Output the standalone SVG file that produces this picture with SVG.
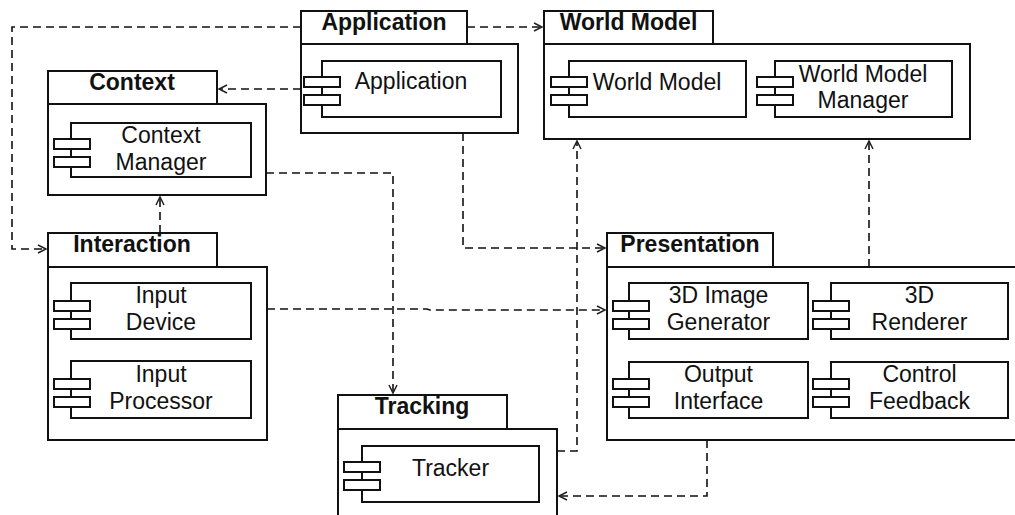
<svg xmlns="http://www.w3.org/2000/svg" width="1015" height="515" viewBox="0 0 1015 515">
<style>
.pk{fill:#fff;stroke:#111;stroke-width:2}
.cp{fill:#fff;stroke:#111;stroke-width:2}
.t{font-family:"Liberation Sans",Arial,sans-serif;font-size:23px;fill:#111;text-anchor:middle}
.b{font-weight:bold}
.c{fill:none;stroke:#111;stroke-width:1.6;stroke-dasharray:8 5;marker-end:url(#ah)}
</style>
<defs>
<marker id="ah" markerUnits="userSpaceOnUse" markerWidth="12" markerHeight="12" refX="9" refY="5" orient="auto">
<path d="M1,1 L9,5 L1,9" fill="none" stroke="#222" stroke-width="1.5"/>
</marker>
<g id="icon">
<rect class="cp" x="0" y="0" width="36" height="10"/>
<rect class="cp" x="0" y="18" width="36" height="10"/>
</g>
</defs>
<rect width="1015" height="515" fill="#fff"/>

<g id="connectors">
<path class="c" d="M301,27 H12 V249 H46"/>
<path class="c" d="M467,27 H542"/>
<path class="c" d="M301,89 H219"/>
<path class="c" d="M266,173 H393 V393"/>
<path class="c" d="M160,233 V197"/>
<path class="c" d="M463,133 V248 H605"/>
<path class="c" d="M267,309 H427 L430,310 H605"/>
<path class="c" d="M557,451 H577 V141"/>
<path class="c" d="M869,267 V141"/>
<path class="c" d="M707,440 V496 H559"/>
</g>

<g id="context">
<rect class="pk" x="48" y="71" width="169" height="33"/>
<rect class="pk" x="48" y="104" width="218" height="91"/>
<text class="t b" x="132" y="90">Context</text>
<rect class="cp" x="71" y="123" width="180" height="54"/>
<use href="#icon" x="54" y="139"/>
<text class="t" x="161" y="143">Context</text>
<text class="t" x="161" y="170">Manager</text>
</g>

<g id="application">
<rect class="pk" x="301" y="11" width="166" height="33"/>
<rect class="pk" x="301" y="44" width="217" height="89"/>
<text class="t b" x="384" y="30">Application</text>
<rect class="cp" x="322" y="61" width="179" height="56"/>
<use href="#icon" x="304" y="77"/>
<text class="t" x="411" y="89">Application</text>
</g>

<g id="worldmodel">
<rect class="pk" x="544" y="11" width="169" height="33"/>
<rect class="pk" x="544" y="44" width="426" height="95"/>
<text class="t b" x="628.5" y="30">World Model</text>
<rect class="cp" x="569" y="61" width="177" height="56"/>
<use href="#icon" x="551" y="77"/>
<text class="t" x="657" y="90">World Model</text>
<rect class="cp" x="775" y="61" width="177" height="56"/>
<use href="#icon" x="757" y="77"/>
<text class="t" x="863" y="82">World Model</text>
<text class="t" x="863" y="108">Manager</text>
</g>

<g id="interaction">
<rect class="pk" x="48" y="233" width="169" height="34"/>
<rect class="pk" x="48" y="267" width="219" height="173"/>
<text class="t b" x="132" y="252">Interaction</text>
<rect class="cp" x="71" y="283" width="180" height="56"/>
<use href="#icon" x="54" y="301"/>
<text class="t" x="161" y="303">Input</text>
<text class="t" x="161" y="330">Device</text>
<rect class="cp" x="71" y="361" width="180" height="57"/>
<use href="#icon" x="54" y="379"/>
<text class="t" x="161" y="382">Input</text>
<text class="t" x="161" y="409">Processor</text>
</g>

<g id="tracking">
<rect class="pk" x="338" y="395" width="169" height="34"/>
<rect class="pk" x="338" y="429" width="219" height="100"/>
<text class="t b" x="422" y="414">Tracking</text>
<rect class="cp" x="362" y="446" width="177" height="56"/>
<use href="#icon" x="344" y="462"/>
<text class="t" x="450.5" y="476">Tracker</text>
</g>

<g id="presentation">
<rect class="pk" x="607" y="233" width="166" height="34"/>
<rect class="pk" x="607" y="267" width="420" height="173"/>
<text class="t b" x="690" y="252">Presentation</text>
<rect class="cp" x="629" y="283" width="179" height="56"/>
<use href="#icon" x="613" y="301"/>
<text class="t" x="718.5" y="303">3D Image</text>
<text class="t" x="718.5" y="330">Generator</text>
<rect class="cp" x="831" y="283" width="177" height="56"/>
<use href="#icon" x="813" y="301"/>
<text class="t" x="919.5" y="303">3D</text>
<text class="t" x="919.5" y="330">Renderer</text>
<rect class="cp" x="629" y="362" width="179" height="56"/>
<use href="#icon" x="613" y="379"/>
<text class="t" x="718.5" y="382">Output</text>
<text class="t" x="718.5" y="409">Interface</text>
<rect class="cp" x="831" y="362" width="177" height="56"/>
<use href="#icon" x="813" y="379"/>
<text class="t" x="919.5" y="382">Control</text>
<text class="t" x="919.5" y="409">Feedback</text>
</g>
</svg>
